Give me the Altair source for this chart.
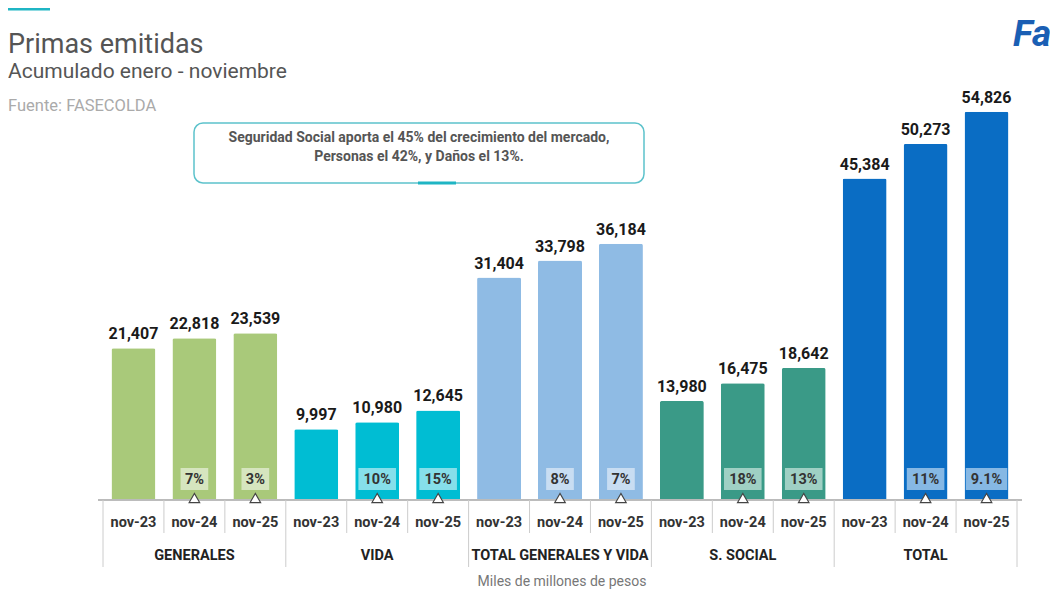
import altair as alt
import pandas as pd

# ---- data ----
groups = ["GENERALES", "VIDA", "TOTAL GENERALES Y VIDA", "S. SOCIAL", "TOTAL"]
periods = ["nov-23", "nov-24", "nov-25"]
generales = [21407, 22818, 23539]
vida = [9997, 10980, 12645]
total_gv = [31404, 33798, 36184]
s_social = [13980, 16475, 18642]
total = [45384, 50273, 54826]
growth_generales = ["", "7%", "3%"]
growth_vida = ["", "10%", "15%"]
growth_total_gv = ["", "8%", "7%"]
growth_s_social = ["", "18%", "13%"]
growth_total = ["", "11%", "9.1%"]

# ---- styles ----
bar_colors = ["#A9C97A", "#00BDD3", "#8FBBE4", "#3A9A87", "#0A6DC4"]
box_colors = ["#D6E5BF", "#86DFEA", "#C8DDF2", "#9FD0C4", "#86B8E4"]

values = [generales, vida, total_gv, s_social, total]
growths = [growth_generales, growth_vida, growth_total_gv, growth_s_social, growth_total]

W, H = 924, 425
STEP = W / 15.0

rows = []
for gi, g in enumerate(groups):
    for pi, p in enumerate(periods):
        rows.append({
            "group": g,
            "period": p,
            "pos": gi * 3 + pi,
            "value": values[gi][pi],
            "label": f"{values[gi][pi]:,}",
            "growth": growths[gi][pi],
        })
df = pd.DataFrame(rows)
half = (10 * (df["growth"].str.len() - 0.6 * df["growth"].str.count(r"\.")) + 8) / 2 / STEP
df["bx1"] = df["pos"] - half
df["bx2"] = df["pos"] + half
growth_df = df[df["growth"] != ""]

group_df = pd.DataFrame({"group": groups, "center": [i * 3 + 1 for i in range(len(groups))]})
col_sep_df = pd.DataFrame({"x": [g * 3 + k + 0.5 for g in range(len(groups)) for k in range(2)]})
grp_sep_df = pd.DataFrame({"x": [-0.5 + 3 * i for i in range(len(groups) + 1)]})

xscale = alt.Scale(domain=[-0.5, 14.5], nice=False, zero=False)
yscale = alt.Scale(domain=[0, 60000], nice=False)
FONT = "Roboto"

base = alt.Chart(df)

bars = base.mark_bar(size=44, cornerRadiusTopLeft=2, cornerRadiusTopRight=2, opacity=1).encode(
    x=alt.X("pos:Q", scale=xscale, axis=None),
    y=alt.Y("value:Q", scale=yscale, axis=None),
    color=alt.Color("group:N", scale=alt.Scale(domain=groups, range=bar_colors), legend=None),
)

value_labels = base.mark_text(font=FONT, fontSize=16, fontWeight="bold", color="#1a1a1a",
                              baseline="alphabetic", dy=-9).encode(
    x=alt.X("pos:Q", scale=xscale),
    y=alt.Y("value:Q", scale=yscale),
    text="label:N",
)

boxes = alt.Chart(growth_df).mark_rect(opacity=1).encode(
    x=alt.X("bx1:Q", scale=xscale),
    x2="bx2:Q",
    y=alt.value(393),
    y2=alt.value(415),
    color=alt.Color("group:N", scale=alt.Scale(domain=groups, range=box_colors), legend=None),
)

box_text = alt.Chart(growth_df).mark_text(font=FONT, fontSize=14.5, fontWeight="bold",
                                          color="#333333", baseline="middle").encode(
    x=alt.X("pos:Q", scale=xscale),
    y=alt.value(405),
    text="growth:N",
)

baseline_rule = alt.Chart(df).mark_rule(color="#BBBBBB", strokeWidth=1).encode(
    x=alt.value(0), x2=alt.value(W), y=alt.value(H)
)

triangles = alt.Chart(growth_df).mark_point(shape="triangle-up", filled=True, fill="white",
                                            stroke="#444444", strokeWidth=1.2, size=110, opacity=1).encode(
    x=alt.X("pos:Q", scale=xscale),
    y=alt.value(423),
)

col_seps = alt.Chart(col_sep_df).mark_rule(color="#CCCCCC", strokeWidth=1).encode(
    x=alt.X("x:Q", scale=xscale), y=alt.value(H), y2=alt.value(458)
)
grp_seps = alt.Chart(grp_sep_df).mark_rule(color="#CCCCCC", strokeWidth=1).encode(
    x=alt.X("x:Q", scale=xscale), y=alt.value(H), y2=alt.value(492)
)

period_labels = base.mark_text(font=FONT, fontSize=14.5, fontWeight="bold", color="#333333",
                               baseline="middle").encode(
    x=alt.X("pos:Q", scale=xscale), y=alt.value(448), text="period:N"
)
group_labels = alt.Chart(group_df).mark_text(font=FONT, fontSize=14.5, fontWeight="bold",
                                             color="#222222", baseline="middle").encode(
    x=alt.X("center:Q", scale=xscale), y=alt.value(481), text="group:N"
)

one = pd.DataFrame({"k": [0]})
def txt(text, x, y, **kw):
    return alt.Chart(one).mark_text(text=text, **kw).encode(x=alt.value(x), y=alt.value(y))

top_line = alt.Chart(one).mark_rule(color="#1FB5C4", strokeWidth=3).encode(
    x=alt.value(-90), x2=alt.value(-48), y=alt.value(-66)
)
title = txt("Primas emitidas", -90, -22, font=FONT, fontSize=27, color="#555555",
            align="left", baseline="alphabetic")
subtitle = txt("Acumulado enero - noviembre", -90, 3, font=FONT, fontSize=21, color="#555555",
               align="left", baseline="alphabetic")
source = txt("Fuente: FASECOLDA", -90, 36, font=FONT, fontSize=16.5, color="#AAAAAA",
             align="left", baseline="alphabetic")
logo = txt("Fa", 915, -29, font=FONT, fontSize=37, fontWeight="bold", fontStyle="italic",
           color="#1A5FB4", align="left", baseline="alphabetic")

note_box = alt.Chart(one).mark_rect(fill="white", stroke="#5CC2CB", strokeWidth=1.5,
                                    cornerRadius=9).encode(
    x=alt.value(96), x2=alt.value(546), y=alt.value(48), y2=alt.value(108)
)
note_accent = alt.Chart(one).mark_rule(color="#1FB5C4", strokeWidth=3).encode(
    x=alt.value(320), x2=alt.value(358), y=alt.value(108)
)
note1 = txt("Seguridad Social aporta el 45% del crecimiento del mercado,", 321, 63,
            font=FONT, fontSize=14, fontWeight="bold", color="#555555", align="center", baseline="middle")
note2 = txt("Personas el 42%,  y Daños el 13%.", 321, 82,
            font=FONT, fontSize=14, fontWeight="bold", color="#555555", align="center", baseline="middle")

footnote = txt("Miles de millones de pesos", 464, 507, font=FONT, fontSize=14, color="#777777",
               align="center", baseline="middle")

chart = alt.layer(
    bars, boxes, box_text, value_labels, baseline_rule, col_seps, grp_seps, triangles,
    period_labels, group_labels, top_line, title, subtitle, source, logo,
    note_box, note_accent, note1, note2, footnote
).resolve_scale(
    color="independent"
).properties(
    width=W, height=H,
    autosize=alt.AutoSizeParams(type="none"),
    padding={"left": 90, "top": 67, "right": 28, "bottom": 90},
    background="white",
).configure_view(stroke=None)

chart.save("out.html", embed_options={"renderer": "svg", "actions": False})
